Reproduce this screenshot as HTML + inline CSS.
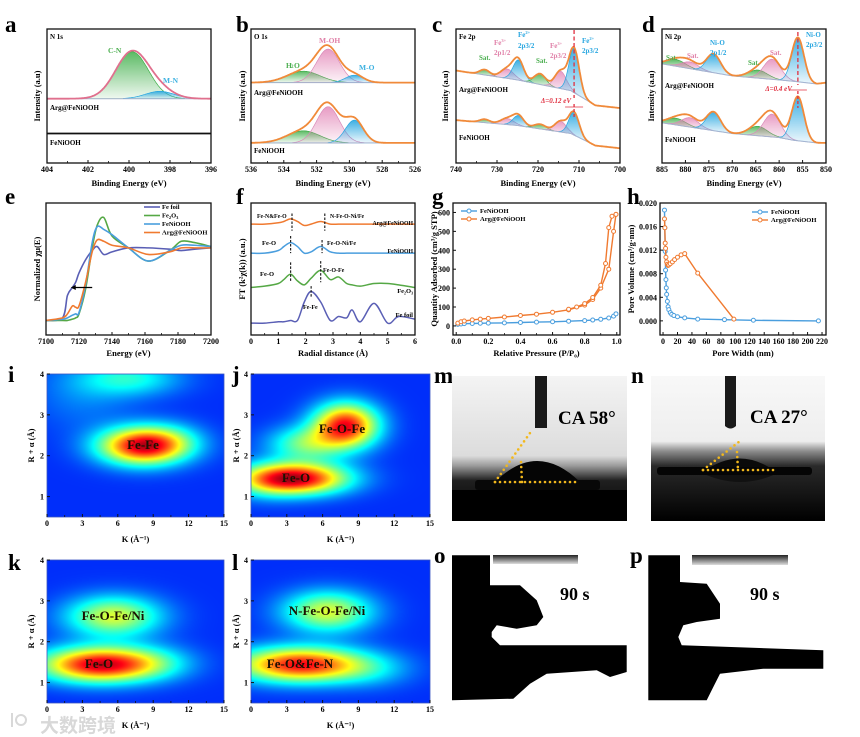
<!DOCTYPE html>
<html><head><meta charset="utf-8">
<style>
html,body{margin:0;padding:0;background:#fff;width:860px;height:737px;overflow:hidden}
#wrap{position:relative;width:860px;height:737px}
canvas{position:absolute;z-index:1}
#fig{position:absolute;left:0;top:0;z-index:2}
text{font-family:"Liberation Serif","Noto Serif CJK SC",serif;font-weight:bold}
</style></head>
<body>
<div id="wrap">
<canvas id="hm-i" style="left:47px;top:374px" width="177" height="143"></canvas>
<canvas id="hm-j" style="left:251px;top:374px" width="179" height="143"></canvas>
<canvas id="hm-k" style="left:47px;top:560px" width="177" height="143"></canvas>
<canvas id="hm-l" style="left:251px;top:560px" width="179" height="143"></canvas>
<svg id="fig" width="860" height="737" viewBox="0 0 860 737" xmlns="http://www.w3.org/2000/svg">
<defs>
<linearGradient id="g-green" x1="0" y1="0" x2="0" y2="1"><stop offset="0" stop-color="#3fae49" stop-opacity=".85"/><stop offset="1" stop-color="#3fae49" stop-opacity=".08"/></linearGradient>
<linearGradient id="g-blue" x1="0" y1="0" x2="0" y2="1"><stop offset="0" stop-color="#27a6e0" stop-opacity=".9"/><stop offset="1" stop-color="#27a6e0" stop-opacity=".08"/></linearGradient>
<linearGradient id="g-pink" x1="0" y1="0" x2="0" y2="1"><stop offset="0" stop-color="#e07ab0" stop-opacity=".75"/><stop offset="1" stop-color="#e07ab0" stop-opacity=".08"/></linearGradient>
<linearGradient id="g-purple" x1="0" y1="0" x2="0" y2="1"><stop offset="0" stop-color="#b890c8" stop-opacity=".7"/><stop offset="1" stop-color="#b890c8" stop-opacity=".08"/></linearGradient>
<linearGradient id="ph-m" x1="0" y1="0" x2="0" y2="1"><stop offset="0" stop-color="#f4f4f4"/><stop offset=".55" stop-color="#dcdcdc"/><stop offset=".62" stop-color="#9a9a9a"/><stop offset=".72" stop-color="#202020"/><stop offset="1" stop-color="#000"/></linearGradient>
<linearGradient id="ph-n" x1="0" y1="0" x2="0" y2="1"><stop offset="0" stop-color="#f8f8f8"/><stop offset=".45" stop-color="#eeeeee"/><stop offset=".52" stop-color="#8a8a8a"/><stop offset=".62" stop-color="#2a2a2a"/><stop offset="1" stop-color="#000"/></linearGradient>
<linearGradient id="bar-o" x1="0" y1="0" x2="0" y2="1"><stop offset="0" stop-color="#222"/><stop offset="1" stop-color="#ddd"/></linearGradient>
</defs>
</svg>
</div>
<script>
// ---------------- DATA ----------------
// a: N 1s
const aCenters=[399.85,398.5], aAmps=[0.35,0.055], aSig=[0.8,0.7];
const aArgBase=0.48, aFeniLevel=0.22;
// b: O 1s
const bCenters=[532.8,531.3,529.7];
const bArgAmps=[0.085,0.25,0.055], bFeniAmps=[0.09,0.27,0.17], bSig=[1.0,0.7,0.55];
const bArgBase=0.60, bFeniBase=0.15;
// c: Fe 2p
const cCenters=[733,727.5,724.8,719.5,714.5,711.2];
const cSig=[1.2,1.6,1.3,1.4,1.4,1.25];
const cArgAmps=[0.04,0.07,0.15,0.08,0.13,0.33];
const cFeniAmps=[0.025,0.045,0.075,0.035,0.08,0.17];
const cBgX=[740,725,712,706,700];
const cArgBg=[0.69,0.62,0.54,0.43,0.41];
const cFeniBg=[0.32,0.28,0.22,0.13,0.11];
// d: Ni 2p
const dCenters=[882,879,874,864.5,861.5,856];
const dSig=[2.0,1.8,1.5,2.0,1.8,1.3];
const dArgAmps=[0.05,0.05,0.14,0.06,0.15,0.33];
const dFeniAmps=[0.05,0.07,0.14,0.07,0.17,0.33];
const dBgX=[885,870,860,857,852,850];
const dArgBg=[0.74,0.65,0.62,0.61,0.59,0.60];
const dFeniBg=[0.30,0.22,0.19,0.17,0.15,0.15];
// e: XANES
const eE=[7100,7110,7113,7116,7118,7120,7124,7128,7131,7135,7140,7150,7162,7175,7182,7190,7200];
const eFoil=[0.11,0.13,0.30,0.36,0.40,0.47,0.57,0.64,0.67,0.61,0.63,0.66,0.66,0.65,0.64,0.65,0.66];
const eFe2O3=[0.11,0.11,0.11,0.12,0.13,0.16,0.35,0.66,0.83,0.89,0.75,0.66,0.56,0.64,0.71,0.70,0.67];
const eFeni=[0.11,0.12,0.13,0.15,0.16,0.17,0.38,0.70,0.82,0.80,0.76,0.66,0.56,0.64,0.68,0.68,0.67];
const eArg=[0.11,0.13,0.16,0.22,0.21,0.22,0.40,0.63,0.72,0.71,0.68,0.66,0.61,0.63,0.66,0.66,0.66];
// f: FT-EXAFS
const fR=[0,0.5,1,1.2,1.45,1.7,1.95,2.2,2.55,2.9,3.2,3.5,3.7,4.0,4.5,5.0,5.4,6];
const fFoil=[0.09,0.09,0.10,0.10,0.11,0.11,0.25,0.33,0.25,0.11,0.14,0.13,0.19,0.10,0.24,0.09,0.14,0.12];
const fFe2O3=[0.36,0.37,0.39,0.42,0.46,0.41,0.38,0.43,0.49,0.42,0.44,0.39,0.38,0.37,0.39,0.39,0.38,0.36];
const fFeni=[0.62,0.62,0.64,0.67,0.70,0.67,0.62,0.63,0.67,0.63,0.62,0.62,0.62,0.62,0.62,0.62,0.62,0.62];
const fArg=[0.84,0.84,0.85,0.86,0.88,0.86,0.83,0.84,0.86,0.84,0.84,0.84,0.84,0.84,0.84,0.84,0.84,0.84];
// g: N2 isotherm
const gP=[0.01,0.03,0.05,0.1,0.15,0.2,0.3,0.4,0.5,0.6,0.7,0.8,0.85,0.9,0.95,0.98,0.995];
const gFeni=[8,10,12,13,14,15,16,18,20,22,25,28,31,35,42,52,64];
const gArgAds=[15,22,26,32,36,40,47,55,62,72,85,110,140,200,300,500,590];
const gDesP=[0.995,0.97,0.95,0.93,0.9,0.85,0.8,0.75,0.7];
const gArgDes=[590,580,520,330,215,150,118,100,88];
// h: pore size distribution
const hFeniW=[2,2.5,3,3.5,4,4.5,5,6,7,8,10,12,15,20,30,48,85,125,215];
const hFeniV=[0.0188,0.0158,0.0118,0.0086,0.0070,0.0056,0.0045,0.0033,0.0024,0.0019,0.0014,0.0011,0.0009,0.0007,0.0005,0.0003,0.0002,0.0001,0.0];
const hArgW=[2,2.5,3,3.5,4,5,6,7,8,10,13,16,20,25,30,48,98];
const hArgV=[0.0173,0.0158,0.0132,0.0123,0.0108,0.0100,0.0096,0.0094,0.0095,0.0097,0.0100,0.0104,0.0108,0.0112,0.0114,0.0081,0.0003];
// i-l: wavelet blobs [k, R, amp, sigmaK, sigmaR]
const iK=[8.1,7.0,3.0,10.5], iR=[2.25,3.9,3.5,2.4], iA=[0.74,0.22,0.08,0.1], iSk=[2.6,3.0,3.0,2.0], iSr=[0.32,0.3,0.6,0.3];
const jK=[3.8,7.9,4.5,1.0], jR=[1.45,2.75,2.3,1.4], jA=[0.74,0.7,0.3,0.15], jSk=[3.0,1.9,2.2,2.0], jSr=[0.27,0.38,0.3,0.3];
const kK=[4.4,5.6,9.0], kR=[1.45,2.63,1.5], kA=[0.74,0.42,0.12], kSk=[3.5,2.8,2.5], kSr=[0.3,0.35,0.3];
const lK=[4.1,6.4,10.0], lR=[1.45,2.75,1.3], lA=[0.7,0.42,0.1], lSk=[3.8,2.6,2.5], lSr=[0.3,0.35,0.3];

// ---------------- HELPERS ----------------
const NS='http://www.w3.org/2000/svg';
const svg=document.getElementById('fig');
function el(tag,attrs,parent){const e=document.createElementNS(NS,tag);for(const k in attrs)e.setAttribute(k,attrs[k]);(parent||svg).appendChild(e);return e;}
function T(x,y,s,size,parent,extra){const t=el('text',Object.assign({x:x,y:y,'font-size':size},extra||{}),parent);t.textContent=s;return t;}
function gauss(x,c,a,s){return a*Math.exp(-0.5*((x-c)/s)**2);}
function interp(xs,ys,x){ // xs may be descending
  for(let i=0;i<xs.length-1;i++){const a=xs[i],b=xs[i+1];if((x-a)*(x-b)<=0){const t=(x-a)/(b-a);return ys[i]+t*(ys[i+1]-ys[i]);}}
  return Math.abs(x-xs[0])<Math.abs(x-xs[xs.length-1])?ys[0]:ys[ys.length-1];}
function smooth(pts){let d='M'+pts[0][0].toFixed(2)+','+pts[0][1].toFixed(2);
  for(let i=0;i<pts.length-1;i++){const p0=pts[i-1]||pts[i],p1=pts[i],p2=pts[i+1],p3=pts[i+2]||p2;
    const c1=[p1[0]+(p2[0]-p0[0])/6,p1[1]+(p2[1]-p0[1])/6],c2=[p2[0]-(p3[0]-p1[0])/6,p2[1]-(p3[1]-p1[1])/6];
    d+=' C'+c1.map(v=>v.toFixed(2))+' '+c2.map(v=>v.toFixed(2))+' '+p2.map(v=>v.toFixed(2));}return d;}
function panel(box,xd,yd){const g=el('g',{});
  const sx=v=>box.x+(v-xd[0])/(xd[1]-xd[0])*box.w;const sy=v=>box.y+box.h-(v-yd[0])/(yd[1]-yd[0])*box.h;return {g,sx,sy,box,xd,yd};}
function frame(p,noFill){el('rect',{x:p.box.x,y:p.box.y,width:p.box.w,height:p.box.h,fill:'none',stroke:'#111','stroke-width':1.3},p.g);}
function xticks(p,vals,labels,minor){const ax=el('g',{},p.g);
  
  
  const yb=p.box.y+p.box.h;
  vals.forEach((v,i)=>{const x=p.sx(v);el('line',{x1:x,x2:x,y1:yb,y2:yb-3,stroke:'#111','stroke-width':1},ax);
    T(x,yb+9,labels[i],8,ax,{'text-anchor':'middle'});});
  if(minor){for(let i=0;i<vals.length-1;i++){const x=p.sx((vals[i]+vals[i+1])/2);el('line',{x1:x,x2:x,y1:yb,y2:yb-2,stroke:'#111','stroke-width':.8},ax);}}}
function yticks(p,vals,labels){const ax=el('g',{},p.g);
  
  
  vals.forEach((v,i)=>{const y=p.sy(v);el('line',{x1:p.box.x,x2:p.box.x+3,y1:y,y2:y,stroke:'#111','stroke-width':1},ax);
    T(p.box.x-3,y+3,labels[i],8,ax,{'text-anchor':'end'});});}
function xlabel(p,s,y){const t=T(p.box.x+p.box.w/2,y,s,8.5,p.g,{'text-anchor':'middle'});
  
  return t;}
function ylabel(p,s,x){const cy=p.box.y+p.box.h/2;const t=T(x,cy,s,8.5,p.g,{'text-anchor':'middle',transform:'rotate(-90 '+x+' '+cy+')'});
  
  return t;}
function letter(x,y,s){const t=T(x,y,s,23,svg);
  
  }
function curve(p,xs,ys,color,w){const pts=xs.map((x,i)=>[p.sx(x),p.sy(ys[i])]);
  return el('path',{d:smooth(pts),fill:'none',stroke:color,'stroke-width':w||1.6},p.g);}
const compFill={green:'url(#g-green)',blue:'url(#g-blue)',pink:'url(#g-pink)',purple:'url(#g-purple)'};
const compStroke={green:'#3fae49',blue:'#27a6e0',pink:'#d98ab8',purple:'#b890c8'};
function xps(p,bgF,centers,amps,sigs,colors,env){
  const N=260,xs=[];for(let i=0;i<=N;i++)xs.push(p.xd[0]+(p.xd[1]-p.xd[0])*i/N);
  centers.forEach((c,k)=>{let top=[],bot=[];
    xs.forEach(x=>{const a=gauss(x,c,amps[k],sigs[k]);if(a>0.002){top.push([p.sx(x),p.sy(bgF(x)+a)]);bot.push([p.sx(x),p.sy(bgF(x))]);}});
    if(!top.length)return;
    const d='M'+top.map(q=>q.map(v=>v.toFixed(1)).join(',')).join(' L')+' L'+bot.reverse().map(q=>q.map(v=>v.toFixed(1)).join(',')).join(' L')+'Z';
    const comp=el('path',{d:d,fill:compFill[colors[k]],stroke:compStroke[colors[k]],'stroke-width':.7},p.g);
    
    });
  const bgp=el('path',{d:'M'+xs.map(x=>p.sx(x).toFixed(1)+','+p.sy(bgF(x)).toFixed(1)).join(' L'),fill:'none',stroke:'#a9b4d0','stroke-width':1},p.g);
  
  
  const e=el('path',{d:'M'+xs.map(x=>{let y=bgF(x);centers.forEach((c,k)=>y+=gauss(x,c,amps[k],sigs[k]));return p.sx(x).toFixed(1)+','+p.sy(y).toFixed(1);}).join(' L'),fill:'none',stroke:env,'stroke-width':1.8},p.g);
  
  }
function sup(parent,x,y,base,supS,size,color){const t=el('text',{x:x,y:y,'font-size':size,fill:color},parent);
  t.appendChild(document.createTextNode(base));const s=el('tspan',{'font-size':size*0.65,dy:-size*0.4},t);s.textContent=supS;return t;}

// ---------------- PANEL a ----------------
letter(5,32,'a');
const pa=panel({x:47,y:29,w:164,h:134},[404,396],[0,1]);


xps(pa,x=>aArgBase,aCenters,aAmps,aSig,['green','blue'],'#e0708e');
{const l=el('line',{x1:pa.sx(404),x2:pa.sx(396),y1:pa.sy(aFeniLevel),y2:pa.sy(aFeniLevel),stroke:'#111','stroke-width':1.8},pa.g);
 
 }
frame(pa);xticks(pa,[404,402,400,398,396],['404','402','400','398','396'],true);
xlabel(pa,'Binding Energy (eV)',186);ylabel(pa,'Intensity (a.u)',40);
T(50,39,'N 1s',7,pa.g);T(108,53,'C-N',7.5,pa.g,{fill:'#4caf50'});T(163,83,'M-N',7.5,pa.g,{fill:'#3ab0e0'});
T(50,110,'Arg@FeNiOOH',7,pa.g);T(50,145,'FeNiOOH',7,pa.g);

// ---------------- PANEL b ----------------
letter(236,32,'b');
const pb=panel({x:251,y:29,w:164,h:134},[536,526],[0,1]);


xps(pb,x=>bArgBase,bCenters,bArgAmps,bSig,['green','pink','blue'],'#f08a3a');
xps(pb,x=>bFeniBase,bCenters,bFeniAmps,bSig,['green','pink','blue'],'#f08a3a');
frame(pb);xticks(pb,[536,534,532,530,528,526],['536','534','532','530','528','526'],true);
xlabel(pb,'Binding Energy (eV)',186);ylabel(pb,'Intensity (a.u)',245);
T(254,39,'O 1s',7,pb.g);T(319,43,'M-OH',7.5,pb.g,{fill:'#e080a8'});T(359,70,'M-O',7.5,pb.g,{fill:'#3ab0e0'});
sup(pb.g,286,68,'H','',7.5,'#4caf50');T(291,68,'2',5,pb.g,{fill:'#4caf50'});T(294,68,'O',7.5,pb.g,{fill:'#4caf50'});
T(254,95,'Arg@FeNiOOH',7,pb.g);T(254,153,'FeNiOOH',7,pb.g);

// ---------------- PANEL c ----------------
letter(432,32,'c');
const pc=panel({x:456,y:29,w:164,h:134},[740,700],[0,1]);


const cCol=['green','pink','blue','green','pink','blue'];
xps(pc,x=>interp(cBgX,cArgBg,x),cCenters,cArgAmps,cSig,cCol,'#f08a3a');
xps(pc,x=>interp(cBgX,cFeniBg,x),cCenters,cFeniAmps,cSig,cCol,'#f08a3a');
frame(pc);xticks(pc,[740,730,720,710,700],['740','730','720','710','700'],true);
xlabel(pc,'Binding Energy (eV)',186);ylabel(pc,'Intensity (a.u)',448);
{const x=pc.sx(711.2);const dl=el('line',{x1:x,x2:x,y1:30,y2:98,stroke:'#e03040','stroke-width':1.3,'stroke-dasharray':'4,2.5'},pc.g);
 
 
 el('line',{x1:x,x2:x,y1:104,y2:118,stroke:'#e03040','stroke-width':1.3,'stroke-dasharray':'3,2'},pc.g);
 el('line',{x1:x-9,x2:x+9,y1:107,y2:107,stroke:'#e03040','stroke-width':.8},pc.g);
 T(x-3,103,'Δ=0.12 eV',7,pc.g,{'text-anchor':'end',fill:'#e03040','font-style':'italic'});}
T(459,39,'Fe 2p',7,pc.g);T(479,60,'Sat.',7,pc.g,{fill:'#4caf50'});T(536,63,'Sat.',7,pc.g,{fill:'#4caf50'});
sup(pc.g,494,45,'Fe','3+',7,'#e080a8');T(494,55,'2p1/2',7,pc.g,{fill:'#e080a8'});
sup(pc.g,518,37,'Fe','2+',7,'#27a6e0');T(518,48,'2p3/2',7,pc.g,{fill:'#27a6e0'});
sup(pc.g,550,48,'Fe','3+',7,'#e080a8');T(550,58,'2p3/2',7,pc.g,{fill:'#e080a8'});
sup(pc.g,582,43,'Fe','2+',7,'#27a6e0');T(582,53,'2p3/2',7,pc.g,{fill:'#27a6e0'});
T(459,92,'Arg@FeNiOOH',7,pc.g);T(459,140,'FeNiOOH',7,pc.g);

// ---------------- PANEL d ----------------
letter(642,32,'d');
const pd=panel({x:662,y:29,w:164,h:134},[885,850],[0,1]);


const dCol=['green','pink','blue','green','pink','blue'];
xps(pd,x=>interp(dBgX,dArgBg,x),dCenters,dArgAmps,dSig,dCol,'#f08a3a');
xps(pd,x=>interp(dBgX,dFeniBg,x),dCenters,dFeniAmps,dSig,dCol,'#f08a3a');
frame(pd);xticks(pd,[885,880,875,870,865,860,855,850],['885','880','875','870','865','860','855','850'],false);
xlabel(pd,'Binding Energy (eV)',186);ylabel(pd,'Intensity (a.u)',654);
{const x=pd.sx(856);el('line',{x1:x,x2:x,y1:32,y2:85,stroke:'#e03040','stroke-width':1.3,'stroke-dasharray':'4,2.5'},pd.g);
 el('line',{x1:x,x2:x,y1:91,y2:108,stroke:'#e03040','stroke-width':1.3,'stroke-dasharray':'3,2'},pd.g);
 el('line',{x1:x-9,x2:x+9,y1:90,y2:90,stroke:'#e03040','stroke-width':.8},pd.g);
 T(x-6,91,'Δ=0.4 eV',7,pd.g,{'text-anchor':'end',fill:'#e03040','font-style':'italic'});}
T(665,39,'Ni 2p',7,pd.g);T(666,60,'Sat.',7,pd.g,{fill:'#4caf50'});T(687,58,'Sat.',7,pd.g,{fill:'#e080a8'});
T(710,45,'Ni-O',7,pd.g,{fill:'#27a6e0'});T(710,55,'2p1/2',7,pd.g,{fill:'#27a6e0'});
T(748,65,'Sat.',7,pd.g,{fill:'#4caf50'});T(770,55,'Sat.',7,pd.g,{fill:'#e080a8'});
T(806,37,'Ni-O',7,pd.g,{fill:'#27a6e0'});T(806,47,'2p3/2',7,pd.g,{fill:'#27a6e0'});
T(665,88,'Arg@FeNiOOH',7,pd.g);T(665,142,'FeNiOOH',7,pd.g);

// ---------------- PANEL e ----------------
letter(5,204,'e');
const pe=panel({x:46,y:203,w:165,h:132},[7100,7200],[0,1]);


const eSeries=[[eFoil,'#5a5fb5','Fe foil'],[eFe2O3,'#55a845','Fe2O3'],[eFeni,'#4a9ede','FeNiOOH'],[eArg,'#f07a30','Arg@FeNiOOH']];
eSeries.forEach(s=>{const c=curve(pe,eE,s[0],s[1],1.6);
  
  });
{const y=pe.sy(0.36);el('line',{x1:pe.sx(7128),x2:pe.sx(7117),y1:y,y2:y,stroke:'#000','stroke-width':1.3},pe.g);
 el('path',{d:`M${pe.sx(7115)},${y} l5,-2.5 l0,5 z`,fill:'#000'},pe.g);}
frame(pe);xticks(pe,[7100,7120,7140,7160,7180,7200],['7100','7120','7140','7160','7180','7200'],true);
xlabel(pe,'Energy (eV)',356);ylabel(pe,'Normalized χμ(E)',40);
eSeries.forEach((s,i)=>{const y=209+i*8.5;const lg=el('g',{},pe.g);
  
  
  el('line',{x1:144,x2:160,y1:y-2,y2:y-2,stroke:s[1],'stroke-width':1.6},lg);
  if(s[2]==='Fe2O3'){const t=T(162,y,'Fe',6.5,lg);const a=el('tspan',{'font-size':4.5,dy:1.5},t);a.textContent='2';const b=el('tspan',{dy:-1.5},t);b.textContent='O';const c=el('tspan',{'font-size':4.5,dy:1.5},t);c.textContent='3';}
  else T(162,y,s[2],6.5,lg);});

// ---------------- PANEL f ----------------
letter(236,204,'f');
const pf=panel({x:251,y:203,w:164,h:132},[0,6],[0,1]);


[[fFoil,'#5a5fb5'],[fFe2O3,'#55a845'],[fFeni,'#4a9ede'],[fArg,'#f07a30']].forEach(s=>{const c=curve(pf,fR,s[0],s[1],1.5);
  
  });
[[1.5,0.79,0.92],[2.7,0.79,0.92],[1.45,0.62,0.75],[2.6,0.62,0.72],[1.45,0.40,0.55],[2.55,0.40,0.56],[2.2,0.28,0.37]].forEach(d=>{
  el('line',{x1:pf.sx(d[0]),x2:pf.sx(d[0]),y1:pf.sy(d[2]),y2:pf.sy(d[1]),stroke:'#111','stroke-width':1.1,'stroke-dasharray':'2.5,1.5'},pf.g);});
frame(pf);xticks(pf,[0,1,2,3,4,5,6],['0','1','2','3','4','5','6'],true);
xlabel(pf,'Radial distance (Å)',356);ylabel(pf,'FT (k²χ(k)) (a.u.)',245);
T(257,218,'Fe-N&Fe-O',5.8,pf.g);T(330,218,'N-Fe-O-Ni/Fe',5.8,pf.g);T(413,225,'Arg@FeNiOOH',5.8,pf.g,{'text-anchor':'end'});
T(262,245,'Fe-O',6.5,pf.g);T(327,245,'Fe-O-Ni/Fe',6,pf.g);T(413,253,'FeNiOOH',5.8,pf.g,{'text-anchor':'end'});
T(260,276,'Fe-O',6.5,pf.g);T(323,272,'Fe-O-Fe',6,pf.g);T(413,293,'Fe₂O₃',6.5,pf.g,{'text-anchor':'end'});
T(303,309,'Fe-Fe',6,pf.g);T(413,317,'Fe foil',6.5,pf.g,{'text-anchor':'end'});

// ---------------- PANEL g ----------------
letter(432,204,'g');
const pg=panel({x:453,y:203,w:167,h:132},[-0.02,1.02],[-48,650]);


function markers(p,xs,ys,color,name){const g=el('g',{},p.g);
  
  
  el('path',{d:'M'+xs.map((x,i)=>p.sx(x).toFixed(1)+','+p.sy(ys[i]).toFixed(1)).join(' L'),fill:'none',stroke:color,'stroke-width':1.4},g);
  xs.forEach((x,i)=>{const c=el('circle',{cx:p.sx(x),cy:p.sy(ys[i]),r:2,fill:'#fff',stroke:color,'stroke-width':1},g);
    
    });}
markers(pg,gP,gFeni,'#4a9ede','feniooh-series');
markers(pg,gP,gArgAds,'#f07a30','arg-adsorption-series');
markers(pg,gDesP,gArgDes,'#f07a30','arg-desorption-series');
frame(pg);xticks(pg,[0,0.2,0.4,0.6,0.8,1.0],['0.0','0.2','0.4','0.6','0.8','1.0'],true);
yticks(pg,[0,100,200,300,400,500,600],['0','100','200','300','400','500','600']);
xlabel(pg,'Relative Pressure (P/P₀)',356);ylabel(pg,'Quantity Adsorbed (cm³/g STP)',437);
[['FeNiOOH','#4a9ede',213],['Arg@FeNiOOH','#f07a30',221]].forEach(l=>{const lg=el('g',{},pg.g);
  
  
  el('line',{x1:461,x2:477,y1:l[2]-2,y2:l[2]-2,stroke:l[1],'stroke-width':1.4},lg);
  el('circle',{cx:469,cy:l[2]-2,r:2,fill:'#fff',stroke:l[1]},lg);T(480,l[2],l[0],6.5,lg);});

// ---------------- PANEL h ----------------
letter(627,204,'h');
const ph=panel({x:660,y:203,w:166,h:132},[-4.2,225.5],[-0.0024,0.020]);


markers(ph,hFeniW,hFeniV,'#4a9ede','feniooh-series');
markers(ph,hArgW,hArgV,'#f07a30','arg-series');
frame(ph);
{const v=[],l=[];for(let i=0;i<=220;i+=20){v.push(i);l.push(String(i));}xticks(ph,v,l,false);}
yticks(ph,[0,0.004,0.008,0.012,0.016,0.020],['0.000','0.004','0.008','0.012','0.016','0.020']);
xlabel(ph,'Pore Width (nm)',356);ylabel(ph,'Pore Volume (cm³/g·nm)',634);
[['FeNiOOH','#4a9ede',214],['Arg@FeNiOOH','#f07a30',222]].forEach(l=>{const lg=el('g',{},ph.g);
  
  
  el('line',{x1:752,x2:768,y1:l[2]-2,y2:l[2]-2,stroke:l[1],'stroke-width':1.4},lg);
  el('circle',{cx:760,cy:l[2]-2,r:2,fill:'#fff',stroke:l[1]},lg);T(771,l[2],l[0],6.5,lg);});

// ---------------- HEATMAPS ----------------
function jet(v){const c=t=>Math.max(0,Math.min(1,t));return [c(1.5-Math.abs(4*v-3)),c(1.5-Math.abs(4*v-2)),c(1.5-Math.abs(4*v-1))];}
function heat(id,K,R,A,SK,SR){const cv=document.getElementById(id),ctx=cv.getContext('2d'),w=cv.width,h=cv.height;
  const img=ctx.createImageData(w,h);
  for(let py=0;py<h;py++)for(let px=0;px<w;px++){const k=px/w*15,r=4-py/h*3.5;let v=0.17;
    for(let b=0;b<K.length;b++)v+=A[b]*Math.exp(-0.5*(((k-K[b])/SK[b])**2+((r-R[b])/SR[b])**2));
    const c=jet(Math.min(v,0.97));const o=(py*w+px)*4;img.data[o]=c[0]*255;img.data[o+1]=c[1]*255;img.data[o+2]=c[2]*230+20;img.data[o+3]=255;}
  ctx.putImageData(img,0,0);}
heat('hm-i',iK,iR,iA,iSk,iSr);heat('hm-j',jK,jR,jA,jSk,jSr);heat('hm-k',kK,kR,kA,kSk,kSr);heat('hm-l',lK,lR,lA,lSk,lSr);
function heatAxes(box,ylx,xly,name,labels){const p=panel(box,[0,15],[0.5,4]);
  
  
  el('rect',{x:box.x,y:box.y,width:box.w,height:box.h,fill:'none',stroke:'#3a55c0','stroke-width':.8},p.g);
  xticks(p,[0,3,6,9,12,15],['0','3','6','9','12','15'],true);
  yticks(p,[1,2,3,4],['1','2','3','4']);
  xlabel(p,'K (Å⁻¹)',xly);ylabel(p,'R + α (Å)',ylx);
  labels.forEach(l=>{const t=T(l[0],l[1],l[2],13,p.g,{'text-anchor':'middle',fill:'#1a1200'});
    
    });}
letter(8,382,'i');letter(232,382,'j');letter(8,570,'k');letter(232,570,'l');
heatAxes({x:47,y:374,w:177,h:143},34,542,'panel-i-wavelet',[[143,449,'Fe-Fe']]);
heatAxes({x:251,y:374,w:179,h:143},239,542,'panel-j-wavelet',[[342,433,'Fe-O-Fe'],[296,482,'Fe-O']]);
heatAxes({x:47,y:560,w:177,h:143},34,728,'panel-k-wavelet',[[113,620,'Fe-O-Fe/Ni'],[99,668,'Fe-O']]);
heatAxes({x:251,y:560,w:179,h:143},239,728,'panel-l-wavelet',[[327,615,'N-Fe-O-Fe/Ni'],[300,668,'Fe-O&Fe-N']]);

// ---------------- PHOTOS ----------------
letter(434,383,'m');letter(631,383,'n');letter(434,563,'o');letter(630,563,'p');
function dots(g,x1,y1,x2,y2){el('line',{x1,y1,x2,y2,stroke:'#f2b81c','stroke-width':2.6,'stroke-linecap':'round','stroke-dasharray':'0,5'},g);}
{const g=el('g',{});
 el('rect',{x:452,y:376,width:175,height:145,fill:'url(#ph-m)'},g);
 el('rect',{x:535,y:376,width:12,height:52,fill:'#1a1a1a'},g);
 el('path',{d:'M495,482 Q537,440 580,482 Z',fill:'#050505'},g);
 el('rect',{x:475,y:480,width:125,height:10,rx:3,fill:'#080808'},g);
 el('rect',{x:452,y:490,width:175,height:31,fill:'#000'},g);
 dots(g,495,482,530,433);dots(g,495,482,580,482);dots(g,521,462,522,482);
 const t=T(558,424,'CA 58°',19,g);}
{const g=el('g',{});
 el('rect',{x:651,y:376,width:174,height:145,fill:'url(#ph-n)'},g);
 el('path',{d:'M725,376 h11 v50 q-5.5,5 -11,0 z',fill:'#1a1a1a'},g);
 el('path',{d:'M703,472 Q740,445 776,472 Z',fill:'#0a0a0a'},g);
 el('path',{d:'M700,472 Q740,492 780,472 Z',fill:'#111'},g);
 el('rect',{x:657,y:467,width:155,height:8,rx:3,fill:'#050505'},g);
 dots(g,703,470,776,470);dots(g,703,470,740,441);dots(g,737,452,738,470);
 const t=T(750,423,'CA 27°',19,g);}
function blob(pts,ox,oy){return 'M'+pts.map(p=>(ox+p[0]/3).toFixed(1)+','+(oy+p[1]/3).toFixed(1)).join(' L')+'Z';}
{const g=el('g',{});
 el('rect',{x:452,y:555,width:175,height:145,fill:'#fff'},g);
 el('rect',{x:493,y:555,width:85,height:9,fill:'url(#bar-o)'},g);
 el('path',{d:blob([[66,55],[180,55],[180,145],[270,145],[320,190],[340,240],[320,265],[260,275],[200,265],[185,285],[185,300],[210,325],[590,325],[590,405],[540,420],[500,400],[350,410],[300,440],[250,485],[66,490]],430,537),fill:'#000'},g);
 const t=T(560,600,'90 s',18,g);}
{const g=el('g',{});
 el('rect',{x:648,y:555,width:175,height:145,fill:'#fff'},g);
 el('rect',{x:692,y:555,width:96,height:10,fill:'url(#bar-o)'},g);
 el('path',{d:blob([[655,55],[750,55],[750,135],[830,140],[870,200],[870,245],[800,255],[760,265],[745,300],[755,325],[1180,340],[1180,395],[1000,395],[870,410],[850,450],[830,490],[655,490]],430,537),fill:'#000'},g);
 const t=T(750,600,'90 s',18,g);}
// watermark
{const t=T(40,732,'大数跨境',19,svg,{fill:'#d8d8d8','font-weight':'normal'});t.style.fontFamily='"Noto Sans CJK SC",sans-serif';
 
 const c=el('path',{d:'M12,713 v14 M16,720 a5,5 0 1,0 10,0 a5,5 0 1,0 -10,0',fill:'none',stroke:'#d8d8d8','stroke-width':2});
 }
</script>
</body></html>
